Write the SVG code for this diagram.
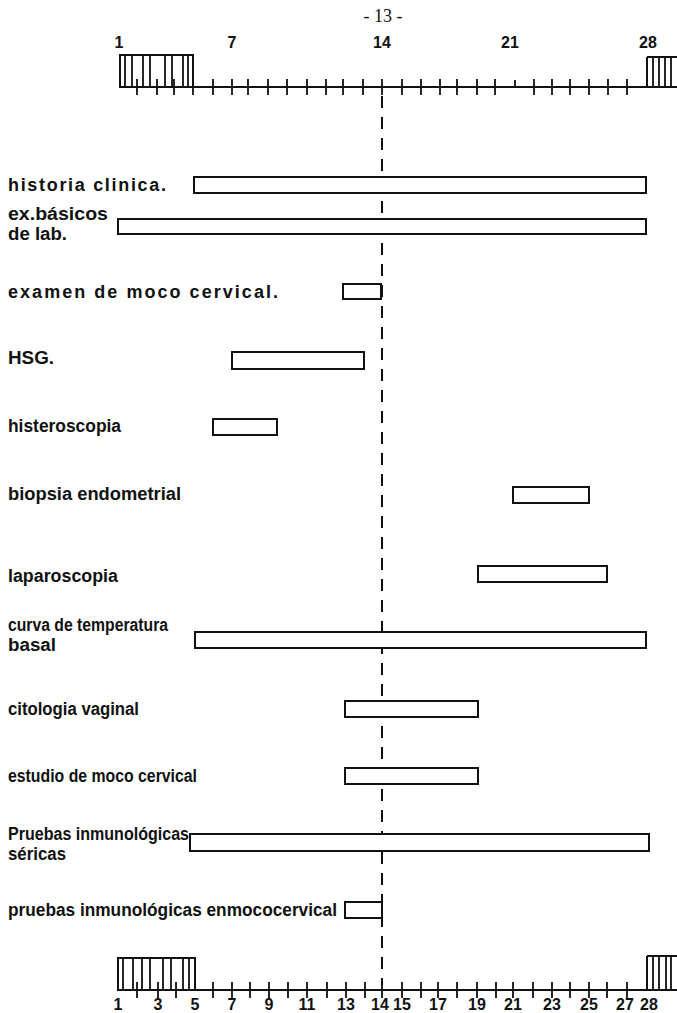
<svg xmlns="http://www.w3.org/2000/svg" width="677" height="1013" viewBox="0 0 677 1013">
<style>
.lbl{font-family:"Liberation Sans",Arial,sans-serif;font-weight:bold;font-size:18px;fill:#111}
.num{font-family:"Liberation Sans",Arial,sans-serif;font-weight:bold;font-size:16px;fill:#111;text-anchor:middle}
.bar{fill:#fff;stroke:#111;stroke-width:2}
.ax{stroke:#111;stroke-width:2;fill:none}
.tk{stroke:#111;stroke-width:1.8}
</style>
<rect width="677" height="1013" fill="#fff"/>
<text x="383" y="22" font-family="Liberation Serif,serif" font-size="18" text-anchor="middle" fill="#111">- 13 -</text>

<g id="top-scale">
  <text class="num" x="119" y="48">1</text>
  <text class="num" x="232" y="48">7</text>
  <text class="num" x="382" y="48">14</text>
  <text class="num" x="510" y="48">21</text>
  <text class="num" x="648" y="48">28</text>
  <rect class="ax" x="120" y="55" width="73" height="32"/>
  <path class="tk" d="M125 55V87M132 55V87M143 55V87M150 55V87M165 55V87M172 55V87M183 55V87M188 55V87"/>
  <path class="ax" d="M647 57V88M647 57H677"/>
  <path class="tk" d="M653 57V88M659 57V88M665 57V88M671 57V88"/>
  <line class="ax" x1="120" y1="87" x2="677" y2="87"/>
  <path class="tk" d="M137 79V95M157 79V95M174 79V95M193 79V95M213 79V95M232 79V95M248 79V95M268 79V95M287 79V95M307 79V95M326 79V95M343 79V95M363 79V95M382 79V95M402 79V95M421 79V95M440 79V95M457 79V95M477 79V95M495 79V95M515 80V87M534 79V95M552 79V95M570 79V95M589 79V95M608 79V95M627 79V95"/>
</g>

<g id="connectors">
  <line x1="382" y1="96" x2="382" y2="986" stroke="#111" stroke-width="2" stroke-dasharray="12 9"/>
</g>

<g id="historia-clinica">
  <text class="lbl" x="8" y="191" textLength="158" lengthAdjust="spacing">historia clinica.</text>
  <rect class="bar" x="194" y="177" width="452" height="16"/>
</g>
<g id="ex-basicos">
  <text class="lbl" x="8" y="220" textLength="100" lengthAdjust="spacingAndGlyphs">ex.básicos</text>
  <text class="lbl" x="8" y="240" textLength="59" lengthAdjust="spacingAndGlyphs">de lab.</text>
  <rect class="bar" x="118" y="219" width="528" height="15"/>
</g>
<g id="examen-moco">
  <text class="lbl" x="8" y="298" textLength="270" lengthAdjust="spacing">examen de moco cervical.</text>
  <rect class="bar" x="343" y="284" width="38" height="15"/>
</g>
<g id="hsg">
  <text class="lbl" x="8" y="364" textLength="46" lengthAdjust="spacingAndGlyphs">HSG.</text>
  <rect class="bar" x="232" y="352" width="132" height="17"/>
</g>
<g id="histeroscopia">
  <text class="lbl" x="8" y="432" textLength="113" lengthAdjust="spacingAndGlyphs">histeroscopia</text>
  <rect class="bar" x="213" y="419" width="64" height="16"/>
</g>
<g id="biopsia">
  <text class="lbl" x="8" y="500" textLength="173" lengthAdjust="spacingAndGlyphs">biopsia endometrial</text>
  <rect class="bar" x="513" y="487" width="76" height="16"/>
</g>
<g id="laparoscopia">
  <text class="lbl" x="8" y="582" textLength="110" lengthAdjust="spacingAndGlyphs">laparoscopia</text>
  <rect class="bar" x="478" y="566" width="129" height="16"/>
</g>
<g id="curva">
  <text class="lbl" x="8" y="631" textLength="160" lengthAdjust="spacingAndGlyphs">curva de temperatura</text>
  <text class="lbl" x="8" y="651" textLength="48" lengthAdjust="spacingAndGlyphs">basal</text>
  <rect class="bar" x="195" y="632" width="451" height="16"/>
</g>
<g id="citologia">
  <text class="lbl" x="8" y="715" textLength="131" lengthAdjust="spacingAndGlyphs">citologia vaginal</text>
  <rect class="bar" x="345" y="701" width="133" height="16"/>
</g>
<g id="estudio-moco">
  <text class="lbl" x="8" y="782" textLength="189" lengthAdjust="spacingAndGlyphs">estudio de moco cervical</text>
  <rect class="bar" x="345" y="768" width="133" height="16"/>
</g>
<g id="pruebas-sericas">
  <text class="lbl" x="8" y="840" textLength="181" lengthAdjust="spacingAndGlyphs">Pruebas inmunológicas</text>
  <text class="lbl" x="8" y="860" textLength="58" lengthAdjust="spacingAndGlyphs">séricas</text>
  <rect class="bar" x="190" y="834" width="459" height="17"/>
</g>
<g id="pruebas-moco">
  <text class="lbl" x="8" y="916" textLength="329" lengthAdjust="spacingAndGlyphs">pruebas inmunológicas enmococervical</text>
  <rect class="bar" x="345" y="902" width="37" height="16"/>
</g>

<g id="bottom-scale">
  <rect class="ax" x="118" y="958" width="77" height="32"/>
  <path class="tk" d="M123 958V990M133 958V990M142 958V990M150 958V990M163 958V990M171 958V990M183 958V990M189 958V990"/>
  <path class="ax" d="M647 956V990M647 956H677"/>
  <path class="tk" d="M653 956V990M659 956V990M666 956V990M671 956V990"/>
  <line class="ax" x1="118" y1="990" x2="677" y2="990"/>
  <path class="tk" d="M137 982V998M158 982V998M176 982V998M213 982V998M232 982V998M250 982V998M269 982V998M288 982V998M307 982V998M327 982V998M346 982V998M365 982V998M382 982V998M402 982V998M421 982V998M438 982V998M457 982V998M477 982V998M496 982V998M513 982V998M533 982V998M552 982V998M570 982V998M589 982V998M607 982V998M627 982V998"/>
  <text class="num" x="118" y="1010">1</text>
  <text class="num" x="158" y="1010">3</text>
  <text class="num" x="195" y="1010">5</text>
  <text class="num" x="232" y="1010">7</text>
  <text class="num" x="269" y="1010">9</text>
  <text class="num" x="307" y="1010">11</text>
  <text class="num" x="346" y="1010">13</text>
  <text class="num" x="380" y="1010">14</text>
  <text class="num" x="402" y="1010">15</text>
  <text class="num" x="438" y="1010">17</text>
  <text class="num" x="477" y="1010">19</text>
  <text class="num" x="513" y="1010">21</text>
  <text class="num" x="552" y="1010">23</text>
  <text class="num" x="589" y="1010">25</text>
  <text class="num" x="625" y="1010">27</text>
  <text class="num" x="649" y="1010">28</text>
</g>
</svg>
